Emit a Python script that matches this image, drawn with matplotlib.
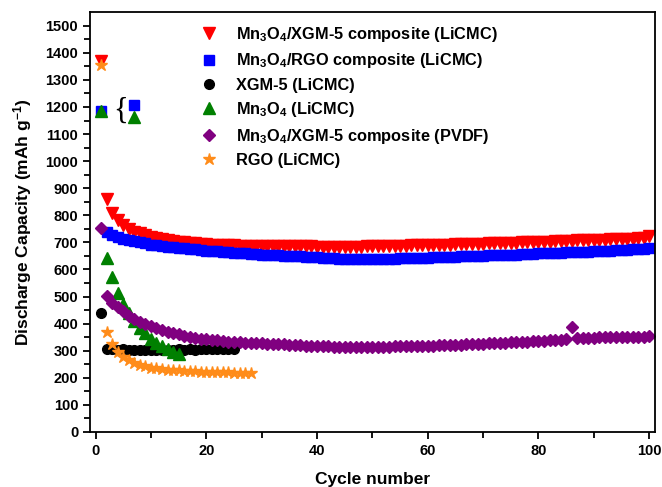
import numpy as np
import matplotlib
matplotlib.use('Agg')
import matplotlib.pyplot as plt

plt.rcParams['font.family'] = ['Liberation Sans', 'DejaVu Sans']
plt.rcParams['font.weight'] = 'bold'
plt.rcParams['mathtext.fontset'] = 'custom'
plt.rcParams['mathtext.rm'] = 'Liberation Sans:bold'
plt.rcParams['mathtext.bf'] = 'Liberation Sans:bold'
plt.rcParams['mathtext.default'] = 'bf'

# discharge capacity (mAh/g) per cycle
red_y = [1370, 862, 807, 781, 763, 750, 740, 733, 727, 721,
         716, 712, 708, 705, 702, 700, 698, 696, 694, 693,
         692, 691, 690, 689, 689, 688, 688, 688, 687, 687,
         687, 686, 686, 686, 686, 685, 685, 685, 685, 684,
         684, 684, 683, 683, 683, 683, 684, 684, 685, 685,
         686, 686, 687, 687, 688, 688, 689, 689, 690, 690,
         691, 691, 692, 692, 693, 693, 694, 694, 695, 695,
         696, 697, 697, 698, 699, 699, 700, 701, 701, 702,
         703, 703, 704, 705, 705, 706, 707, 707, 708, 709,
         709, 710, 711, 712, 712, 713, 714, 715, 717, 722]
blue_y = [1185, 740, 727, 720, 714, 709, 704, 700, 696, 692,
          689, 686, 684, 682, 680, 678, 676, 674, 672, 670,
          668, 667, 665, 664, 662, 661, 659, 658, 657, 655,
          654, 653, 652, 651, 650, 649, 648, 647, 646, 645,
          643, 642, 641, 640, 639, 639, 638, 638, 638, 638,
          639, 639, 640, 640, 641, 642, 642, 643, 644, 644,
          645, 645, 646, 647, 647, 648, 649, 649, 650, 651,
          652, 652, 653, 654, 655, 655, 656, 657, 658, 659,
          660, 660, 661, 662, 663, 664, 665, 666, 666, 667,
          668, 669, 670, 671, 672, 673, 674, 675, 676, 678]
black_y = [440, 305, 306, 304, 305, 303, 304, 302, 303, 304,
           303, 304, 303, 304, 305, 304, 305, 304, 305, 305,
           306, 305, 306, 305, 306]
green_y = [1185, 641, 571, 512, 473, 440, 410, 385, 365, 345,
           330, 318, 305, 295, 287]
purple_y = [752, 502, 478, 460, 445, 430, 418, 407, 397, 390,
            383, 376, 370, 365, 360, 356, 352, 348, 345, 342,
            340, 338, 336, 334, 332, 331, 330, 329, 328, 327,
            326, 325, 324, 323, 322, 321, 320, 319, 318, 317,
            316, 316, 315, 315, 314, 314, 314, 314, 314, 314,
            315, 315, 315, 316, 316, 317, 317, 318, 318, 319,
            319, 320, 320, 321, 322, 322, 323, 324, 325, 326,
            327, 328, 329, 330, 331, 332, 333, 334, 335, 336,
            337, 338, 339, 341, 343, 386, 347, 347, 348, 348,
            349, 349, 349, 350, 350, 351, 351, 352, 352, 353]
orange_y = [1355, 368, 324, 296, 277, 265, 255, 247, 242, 238,
            235, 232, 230, 228, 227, 226, 225, 224, 223, 222,
            221, 221, 220, 220, 219, 219, 218, 218]

# the side note next to cycle 1 (brace + two markers)
note_x = [7, 7]
note_y = [1208, 1162]
brace_x, brace_y = 4.6, 1185

series = [
    (red_y, 'v', '#ff0000', 8, r'Mn$_3$O$_4$/XGM-5 composite (LiCMC)'),
    (blue_y, 's', '#0000ff', 6.5, r'Mn$_3$O$_4$/RGO composite (LiCMC)'),
    (black_y, 'o', '#000000', 7, 'XGM-5 (LiCMC)'),
    (green_y, '^', '#008000', 8, r'Mn$_3$O$_4$ (LiCMC)'),
    (purple_y, 'D', '#800080', 6.5, r'Mn$_3$O$_4$/XGM-5 composite (PVDF)'),
    (orange_y, '*', '#ff8c1a', 9, 'RGO (LiCMC)'),
]

fig = plt.figure(figsize=(6.62, 4.87), dpi=100)
ax = fig.add_axes([0.136, 0.113, 0.853, 0.862])

for y, m, c, ms, lab in series:
    x = np.arange(1, len(y) + 1)
    ax.plot(x, y, ls='none', marker=m, color=c, ms=ms, mec=c, label=lab)

ax.plot(note_x[:1], note_y[:1], ls='none', marker='s', color='#0000ff', ms=6.5)
ax.plot(note_x[1:], note_y[1:], ls='none', marker='^', color='#008000', ms=8)
ax.text(brace_x, brace_y, '{', ha='center', va='center', fontsize=22,
        family='Liberation Serif', fontweight='normal')

ax.set_xlim(-1, 101)
ax.set_ylim(0, 1550)
ax.set_xticks(range(0, 101, 20))
ax.set_xticks(range(10, 100, 20), minor=True)
ax.set_yticks(range(0, 1501, 100))
ax.set_yticks(range(50, 1500, 100), minor=True)
ax.tick_params(which='major', direction='out', length=5, width=1.3, labelsize=10.5)
ax.tick_params(which='minor', direction='out', length=4, width=1.3)
ax.tick_params(top=False, right=False)
for s in ax.spines.values():
    s.set_linewidth(1.3)

ax.set_xlabel('Cycle number', fontsize=12.5, fontweight='bold', labelpad=10)
ax.set_ylabel('Discharge Capacity (mAh g$^{-1}$)', fontsize=12.5, fontweight='bold', labelpad=8)

ax.legend(loc='upper left', bbox_to_anchor=(0.18, 0.985), frameon=False,
          handletextpad=1.0, labelspacing=0.45,
          borderaxespad=0, handlelength=1.3, prop={'weight': 'bold', 'size': 11.8})

fig.savefig('out.png', dpi=100)
